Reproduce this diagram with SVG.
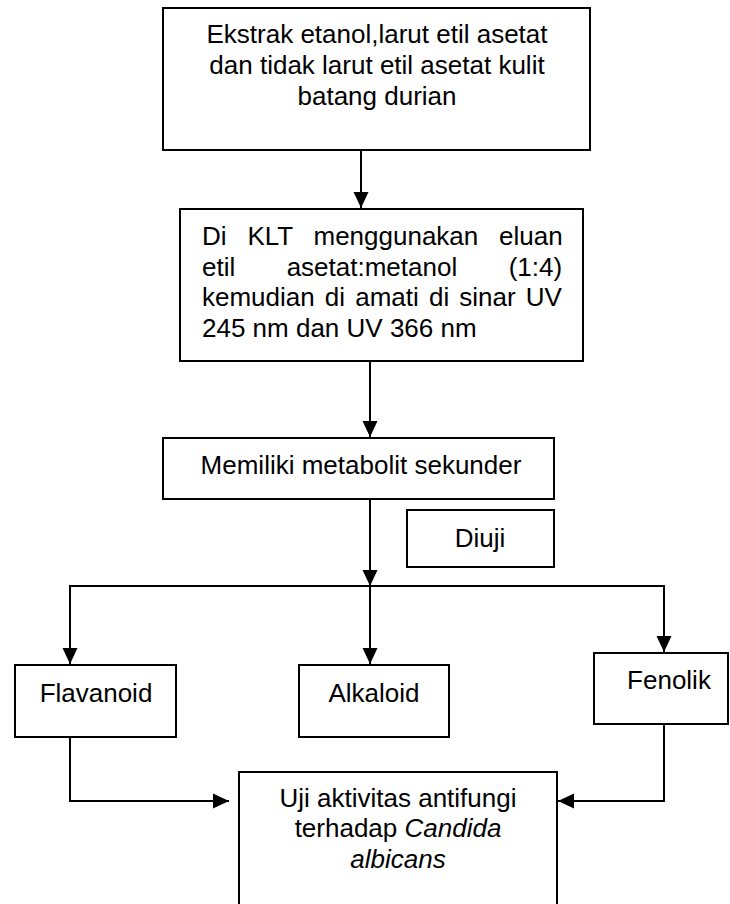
<svg xmlns="http://www.w3.org/2000/svg" width="730" height="904" viewBox="0 0 730 904">
<style>
.box{fill:#fff;stroke:#000;stroke-width:2}
.t{font-family:"Liberation Sans",Arial,sans-serif;font-size:26px;fill:#000}
.c{text-anchor:middle}
.ln{fill:none;stroke:#000;stroke-width:2}
</style>
<defs>
<marker id="ah" markerUnits="userSpaceOnUse" markerWidth="16" markerHeight="16" viewBox="0 0 16 16" refX="16" refY="8" orient="auto">
<path d="M0,0.5 L16,8 L0,15.5 Z" fill="#000"/>
</marker>
</defs>
<rect width="730" height="904" fill="#fff"/>
<g id="connectors">
<line class="ln" x1="361" y1="150" x2="361" y2="208" marker-end="url(#ah)"/>
<line class="ln" x1="370" y1="361" x2="370" y2="437" marker-end="url(#ah)"/>
<line class="ln" x1="370" y1="499" x2="370" y2="586" marker-end="url(#ah)"/>
<line class="ln" x1="69" y1="586" x2="665" y2="586"/>
<line class="ln" x1="70" y1="586" x2="70" y2="664" marker-end="url(#ah)"/>
<line class="ln" x1="370" y1="586" x2="370" y2="664" marker-end="url(#ah)"/>
<line class="ln" x1="664" y1="586" x2="664" y2="652" marker-end="url(#ah)"/>
<polyline class="ln" points="70,737 70,801 229,801" marker-end="url(#ah)"/>
<polyline class="ln" points="664,724 664,801 558,801" marker-end="url(#ah)"/>
</g>
<g id="n1">
<rect class="box" x="163" y="8" width="427" height="142"/>
<text class="t c" x="377" y="43">Ekstrak etanol,larut etil asetat</text>
<text class="t c" x="377" y="74">dan tidak larut etil asetat kulit</text>
<text class="t c" x="377" y="105">batang durian</text>
</g>
<g id="n2">
<rect class="box" x="180" y="209" width="403" height="152"/>
<text class="t" x="202" y="245" word-spacing="13.6">Di KLT menggunakan eluan</text>
<text class="t" x="202" y="275.5" word-spacing="44.2">etil asetat:metanol (1:4)</text>
<text class="t" x="202" y="306" word-spacing="2.9">kemudian di amati di sinar UV</text>
<text class="t" x="202" y="336.5">245 nm dan UV 366 nm</text>
</g>
<g id="n3">
<rect class="box" x="163" y="438" width="391" height="61"/>
<text class="t c" x="361" y="474">Memiliki metabolit sekunder</text>
</g>
<g id="n4">
<rect class="box" x="407" y="510" width="147" height="57"/>
<text class="t c" x="480" y="547">Diuji</text>
</g>
<g id="n5">
<rect class="box" x="15" y="665" width="161" height="72"/>
<text class="t c" x="96" y="702">Flavanoid</text>
</g>
<g id="n6">
<rect class="box" x="299" y="665" width="150" height="72"/>
<text class="t c" x="374" y="702">Alkaloid</text>
</g>
<g id="n7">
<rect class="box" x="594" y="653" width="134" height="71"/>
<text class="t c" x="669" y="689">Fenolik</text>
</g>
<g id="n8">
<rect class="box" x="239" y="772" width="318" height="140"/>
<text class="t c" x="398" y="807">Uji aktivitas antifungi</text>
<text class="t c" x="398" y="837">terhadap <tspan font-style="italic">Candida</tspan></text>
<text class="t c" x="398" y="868" font-style="italic">albicans</text>
</g>
</svg>
